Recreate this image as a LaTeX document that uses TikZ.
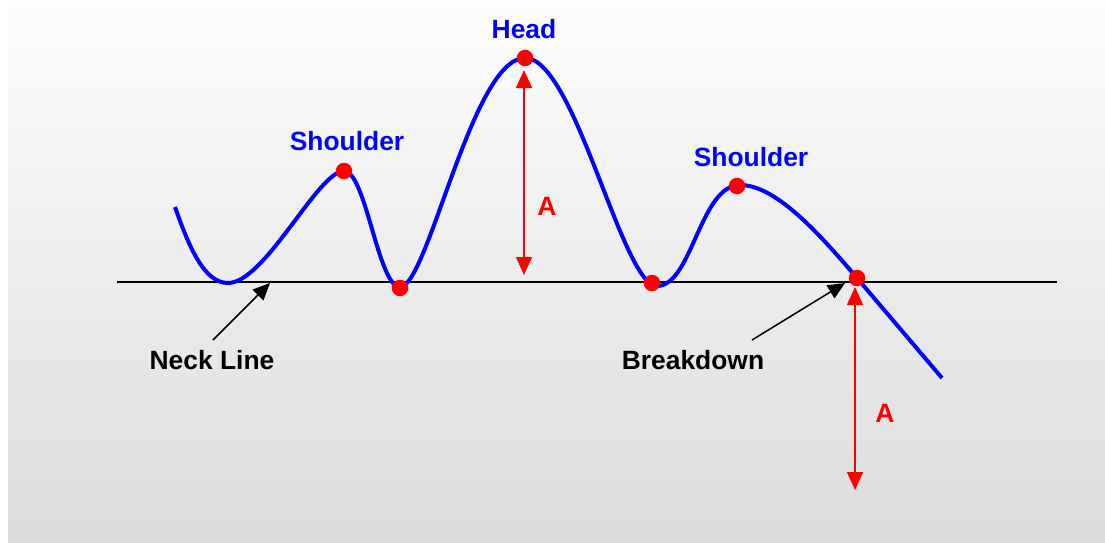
\documentclass[tikz,border=0pt]{standalone}
\usepackage{fontspec}
\setmainfont{Liberation Sans}
\usepackage{xcolor}
\usetikzlibrary{arrows.meta}

\definecolor{bgtop}{HTML}{FDFDFD}
\definecolor{bgbot}{HTML}{DCDCDC}

\tikzset{
  peak/.style={font=\fontsize{26.4}{30}\selectfont\bfseries, text=blue},
  caption/.style={font=\fontsize{26.4}{30}\selectfont\bfseries, text=black},
  height/.style={font=\fontsize{26.4}{30}\selectfont\bfseries, text=red},
  dot/.style={circle, fill=red, inner sep=0pt, minimum size=16.5pt},
  pointer/.style={-{Triangle[length=17pt,width=15pt]}, line width=1.5pt},
  span/.style={{Triangle[length=18pt,width=16pt]}-{Triangle[length=18pt,width=16pt]}, red, line width=1.6pt},
}

\begin{document}
\begin{tikzpicture}[x=1pt, y=-1pt]
    \useasboundingbox (0,0) rectangle (1105,543);
    \fill[white] (0,0) rectangle (8,543);
    \shade[top color=bgtop, bottom color=bgbot] (8,0) rectangle (1105,543);

    % neck line
    \coordinate (neckL) at (117,282);
    \coordinate (neckR) at (1057,282);
    \draw[line width=2pt] (neckL) -- (neckR);

    % price curve
    \draw[blue, line width=4pt]
        (175,207) .. controls (190,250) and (205,283) .. (228,283)
        .. controls (265,283) and (318,171) .. (344,171)
        .. controls (366,171) and (378,287) .. (400,287)
        .. controls (428,287) and (472,58) .. (525,58)
        .. controls (575,58) and (622,286) .. (657,286)
        .. controls (692,286) and (700,185) .. (740,185)
        .. controls (775,185) and (817,231) .. (857,278)
        -- (942,378);

    % turning points
    \node[dot] (ls) at (344,171) {};
    \node[dot] (t1) at (400,288) {};
    \node[dot] (hd) at (525,58) {};
    \node[dot] (t2) at (652,283) {};
    \node[dot] (rs) at (737,186) {};
    \node[dot] (bd) at (857,278) {};

    % labels
    \node[peak] (lslabel) at (347,141) {Shoulder};
    \node[peak] (hdlabel) at (524,29) {Head};
    \node[peak] (rslabel) at (751,157) {Shoulder};
    \node[caption] (necklabel) at (212,360) {Neck Line};
    \node[caption] (bdlabel) at (693,360) {Breakdown};

    % pointers
    \coordinate (necktail) at (213,340);
    \coordinate (necktip) at (270,283);
    \coordinate (bdtail) at (752,340);
    \coordinate (bdtip) at (845,283);
    \draw[pointer] (necktail) -- (necktip);
    \draw[pointer] (bdtail) -- (bdtip);

    % measured move
    \coordinate (up1) at (524,70);
    \coordinate (lo1) at (524,275);
    \coordinate (up2) at (855,287);
    \coordinate (lo2) at (855,490);
    \draw[span] (up1) -- (lo1);
    \draw[span] (up2) -- (lo2);
    \node[height] (a1) at (547,206) {A};
    \node[height] (a2) at (885,413) {A};
\end{tikzpicture}
\end{document}
